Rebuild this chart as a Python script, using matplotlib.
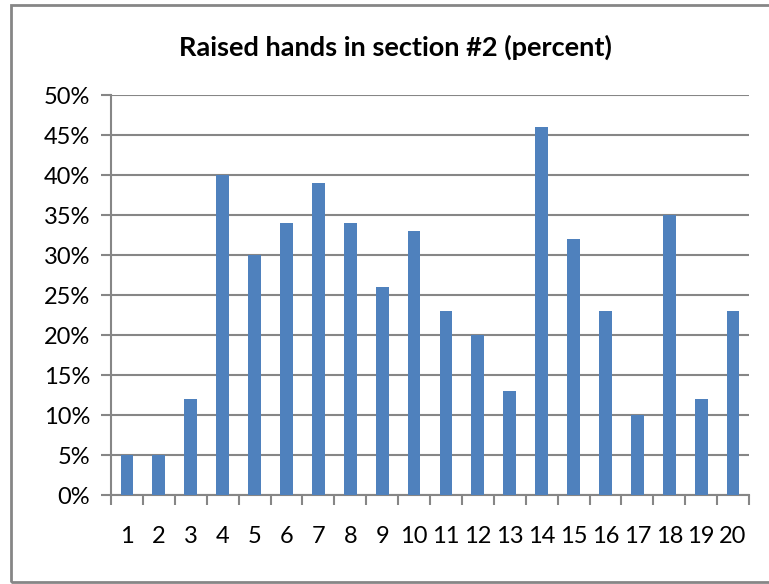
import matplotlib.pyplot as plt
import numpy as np
from matplotlib.patches import Rectangle
from matplotlib.ticker import FixedLocator

# raised hands per session, section #2
sessions = [str(i) for i in range(1, 21)]
percent = [5, 5, 12, 40, 30, 34, 39, 34, 26, 33, 23, 20, 13, 46, 32, 23, 10, 35, 12, 23]
y_ticks = [0, 5, 10, 15, 20, 25, 30, 35, 40, 45, 50]

plt.rcParams['font.family'] = ['Lato', 'DejaVu Sans']
grey = '#868686'

W, H = 769, 584
fig = plt.figure(figsize=(W / 100, H / 100), dpi=100)
ax = fig.add_axes([111 / W, (H - 495) / H, 638 / W, 400 / H])

x = np.arange(1, len(sessions) + 1)
ax.bar(x, percent, width=0.4, color='#4F81BD', zorder=3)

ax.set_xlim(0.5, len(sessions) + 0.5)
ax.set_ylim(0, 50)
ax.set_yticks(y_ticks)
ax.set_yticklabels([f'{v}%' for v in y_ticks], fontsize=17)
ax.set_xticks(x)
ax.set_xticklabels(sessions, fontsize=17)
ax.xaxis.set_minor_locator(FixedLocator(np.arange(0.5, len(sessions) + 1, 1)))
ax.tick_params(axis='x', which='major', length=0, pad=22)
ax.tick_params(axis='x', which='minor', length=7, width=1.5, color=grey, direction='out')
ax.tick_params(axis='y', length=7, width=1.5, color=grey, pad=8)

ax.grid(axis='y', color=grey, linewidth=1.5, zorder=0)
for side in ['top', 'right']:
    ax.spines[side].set_visible(False)
for side in ['left', 'bottom']:
    ax.spines[side].set_color(grey)
    ax.spines[side].set_linewidth(1.5)

fig.text(395 / W, 1 - 47 / H, 'Raised hands in section #2 (percent)',
         ha='center', va='center', fontsize=19.5, fontweight='bold')

fig.patches.append(Rectangle((11 / W, (H - 582) / H), 770 / W, 577 / H,
                             transform=fig.transFigure, fill=False,
                             edgecolor=grey, linewidth=2))

fig.savefig('out.png', dpi=100)
